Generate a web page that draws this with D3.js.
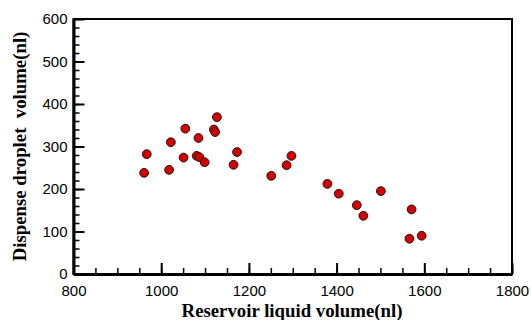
<!DOCTYPE html>
<html>
<head>
<meta charset="utf-8">
<script src="https://cdn.jsdelivr.net/npm/d3@7"></script>
<style>
  body { margin: 0; background: #fff; }
  .tick text { font-family: "Liberation Sans", Arial, sans-serif; font-size: 15px; fill: #000; }
  .title { font-family: "Liberation Serif", "Times New Roman", serif; font-weight: bold; font-size: 18.8px; fill: #000; }
</style>
</head>
<body>
<svg id="chart" width="531" height="320"></svg>
<script>
// reservoir liquid volume (nl)
var reservoir = [961, 967, 1018, 1022, 1051, 1055, 1081, 1087, 1085, 1099, 1120, 1123, 1127,
  1165, 1173, 1251, 1286, 1297, 1379, 1405, 1501, 1446, 1461, 1571, 1566, 1594]
// dispensed droplet volume (nl)
var droplet = [238, 282, 245, 310, 274, 342, 278, 275, 320, 263, 340, 334, 369,
  257, 287, 231, 256, 278, 212, 189, 195, 162, 137, 152, 83, 90]
var xTicks = [800, 1000, 1200, 1400, 1600, 1800]
var yTicks = [0, 100, 200, 300, 400, 500, 600]

var svg = d3.select('#chart')
var margin = { left: 73.5, right: 19, top: 19, bottom: 46 },
  width = 531 - margin.left - margin.right,
  height = 320 - margin.top - margin.bottom

var x = d3.scaleLinear().domain([800, 1800]).range([0, width])
var y = d3.scaleLinear().domain([0, 600]).range([height, 0])

var g = svg.append('g').attr('transform', 'translate(' + margin.left + ',' + margin.top + ')')

// frame
g.append('rect')
  .attr('width', width)
  .attr('height', height)
  .attr('fill', 'none')
  .attr('stroke', '#000')
  .attr('stroke-width', 2)

// minor ticks (inward)
g.append('g')
  .attr('transform', 'translate(0,' + height + ')')
  .call(d3.axisTop(x).tickValues(d3.range(800, 1801, 50)).tickSize(6).tickFormat(''))
  .call(function(s) {
    s.select('.domain').remove()
    s.selectAll('line').attr('stroke-width', 1.5)
  })
g.append('g')
  .call(d3.axisRight(y).tickValues(d3.range(0, 601, 20)).tickSize(6).tickFormat(''))
  .call(function(s) {
    s.select('.domain').remove()
    s.selectAll('line').attr('stroke-width', 1.5)
  })

// major ticks (inward) with labels outside
var xAxis = g.append('g')
  .attr('transform', 'translate(0,' + height + ')')
  .call(d3.axisBottom(x).tickValues(xTicks).tickSizeInner(-11).tickSizeOuter(0).tickPadding(11).tickFormat(d3.format('d')))
xAxis.select('.domain').attr('stroke-width', 3)
xAxis.selectAll('.tick line').attr('stroke-width', 2)

var yAxis = g.append('g')
  .call(d3.axisLeft(y).tickValues(yTicks).tickSizeInner(-11).tickSizeOuter(0).tickPadding(6).tickFormat(d3.format('d')))
yAxis.select('.domain').attr('stroke-width', 3)
yAxis.selectAll('.tick line').attr('stroke-width', 2)

// points
g.selectAll('circle.pt')
  .data(reservoir.map(function(v, i) { return [v, droplet[i]] }))
  .enter()
  .append('circle')
  .attr('class', 'pt')
  .attr('cx', function(d) { return x(d[0]) })
  .attr('cy', function(d) { return y(d[1]) })
  .attr('r', 4.4)
  .attr('fill', '#d40000')
  .attr('stroke', '#1a1a1a')
  .attr('stroke-width', 1)

// axis titles
svg.append('text')
  .attr('class', 'title')
  .attr('x', 292)
  .attr('y', 317)
  .attr('text-anchor', 'middle')
  .text('Reservoir liquid volume(nl)')

svg.append('text')
  .attr('class', 'title')
  .attr('transform', 'translate(26,' + (margin.top + height / 2) + ') rotate(-90)')
  .attr('text-anchor', 'middle')
  .style('white-space', 'pre')
  .text('Dispense droplet  volume(nl)')
</script>
</body>
</html>
